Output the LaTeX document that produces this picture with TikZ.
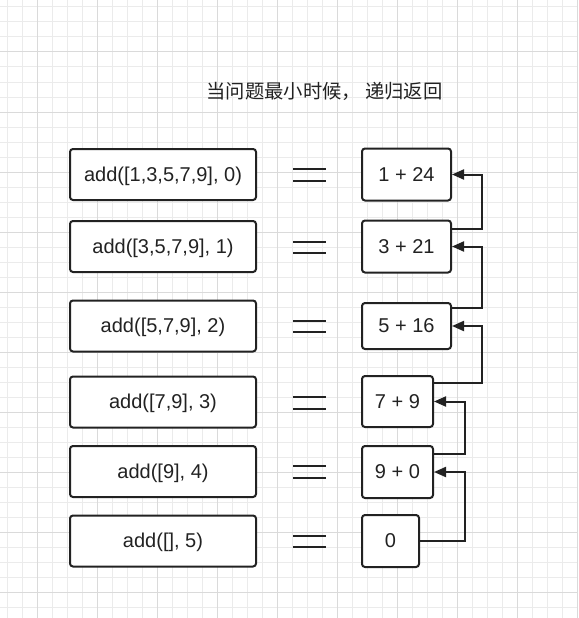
\documentclass[tikz,border=0pt]{standalone}
\usepackage{fontspec}
\setmainfont{Liberation Sans}
\newfontfamily\cjkfont{Noto Sans CJK SC}
\usetikzlibrary{arrows.meta,calc}
\definecolor{ink}{HTML}{222222}
\definecolor{gridminor}{HTML}{EBEBEB}
\definecolor{gridmajor}{HTML}{DADADA}
\begin{document}
\begin{tikzpicture}[x=1pt,y=-1pt,
  box/.style={draw=ink, line width=2pt, rounded corners=3pt, fill=white, text=ink,
    font=\fontsize{20}{24}\selectfont, inner sep=0pt, minimum height=51pt,
    text height=13pt, text depth=0pt},
  lbox/.style={box, minimum width=186pt},
  eqline/.style={draw=ink, line width=2pt},
  conn/.style={draw=ink, line width=2pt, -{Triangle[length=12pt,width=10pt]}},
  minorline/.style={draw=gridminor, line width=1pt},
  majorline/.style={draw=gridmajor, line width=1pt}]
\useasboundingbox (0,0) rectangle (578,618);
\fill[white] (0,0) rectangle (578,618);
\foreach \x in {7,22,...,577} \draw[minorline] (\x,0) -- (\x,618);
\foreach \y in {7,22,...,617} \draw[minorline] (0,\y) -- (578,\y);
\foreach \x in {37,97,...,577} \draw[majorline] (\x,0) -- (\x,618);
\foreach \y in {52,112,...,617} \draw[majorline] (0,\y) -- (578,\y);

\node[anchor=west, text=ink, font=\cjkfont\fontsize{19.3}{23}\selectfont] (title) at (203,91) {当问题最小时候，\ 递归返回};

\node[lbox] (l1) at (163,174.5) {add([1,3,5,7,9], 0)};
\node[lbox] (l2) at (163,246.5) {add([3,5,7,9], 1)};
\node[lbox] (l3) at (163,326) {add([5,7,9], 2)};
\node[lbox] (l4) at (163,402) {add([7,9], 3)};
\node[lbox] (l5) at (163,471.5) {add([9], 4)};
\node[lbox] (l6) at (163,541) {add([], 5)};

\node[box, minimum width=89pt, minimum height=52pt] (r1) at (406.5,174.5) {1 + 24};
\node[box, minimum width=89pt, minimum height=52pt] (r2) at (406.5,246.5) {3 + 21};
\node[box, minimum width=89pt, minimum height=46pt] (r3) at (406.5,326) {5 + 16};
\node[box, minimum width=71pt, minimum height=51pt] (r4) at (397.5,401.5) {7 + 9};
\node[box, minimum width=71pt, minimum height=52pt] (r5) at (397.5,472) {9 + 0};
\node[box, minimum width=57pt, minimum height=52pt] (r6) at (390.5,541) {0};

\foreach \yc in {175,247.5,326.7,403,472,541.5}{
  \draw[eqline] (293,\yc-5.7) -- (326,\yc-5.7);
  \draw[eqline] (293,\yc+5.7) -- (326,\yc+5.7);
}

\draw[conn] ($(r2.north east)+(0,9.7)$) -- ++(30,0) |- (r1.east);
\draw[conn] ($(r3.north east)+(0,6.3)$) -- ++(30,0) |- (r2.east);
\draw[conn] ($(r4.north east)+(0,8)$) -- ++(48,0) |- (r3.east);
\draw[conn] ($(r5.north east)+(0,9)$) -- ++(31,0) |- (r4.east);
\draw[conn] (r6.east) -- ++(45,0) |- (r5.east);
\end{tikzpicture}
\end{document}
